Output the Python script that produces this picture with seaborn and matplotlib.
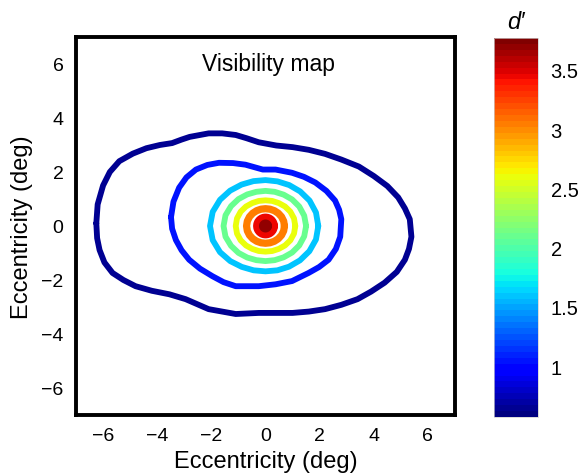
import numpy as np
import pandas as pd
import matplotlib
matplotlib.use("Agg")
import matplotlib.pyplot as plt
import seaborn as sns

sns.set_style("white")
plt.rcParams['font.family'] = ['Liberation Sans', 'DejaVu Sans']
plt.rcParams['text.color'] = 'black'
plt.rcParams['xtick.color'] = 'black'
plt.rcParams['ytick.color'] = 'black'
plt.rcParams['axes.labelcolor'] = 'black'

# --- data ---
vmin, vmax = 0.57, 3.77
cbar_ticks = [1, 1.5, 2, 2.5, 3, 3.5]
cbar_labels = ['1', '1.5', '2', '2.5', '3', '3.5']

# outer contours: (x, y) points in degrees
outer_level = 0.65
outer_x = [-6.25, -6.2, -6.0, -5.75, -5.4, -4.9, -4.4, -3.9, -3.45, -3.1, -2.8, -2.1,
           -1.6, -1.1, -0.7, -0.25, 0.4, 1.0, 1.6, 2.2, 2.8, 3.45, 4.0, 4.5, 4.9, 5.15,
           5.33, 5.39, 5.3, 5.15, 4.85, 4.4, 3.9, 3.4, 2.8, 2.2, 1.6, 1.0, -0.25, -1.1,
           -2.1, -2.95, -3.55, -4.2, -4.8, -5.25, -5.65, -5.95, -6.13, -6.22, -6.25]
outer_y = [0.1, 0.8, 1.5, 2.0, 2.4, 2.68, 2.88, 3.0, 3.07, 3.2, 3.3, 3.43,
           3.43, 3.37, 3.25, 3.1, 2.98, 2.92, 2.82, 2.67, 2.46, 2.2, 1.85, 1.48, 1.06, 0.65,
           0.25, -0.4, -0.85, -1.25, -1.7, -2.1, -2.43, -2.71, -2.92, -3.08, -3.17, -3.22, -3.22, -3.26,
           -3.08, -2.71, -2.53, -2.4, -2.23, -2.0, -1.74, -1.35, -0.89, -0.45, 0.1]

second_level = 1.05
second_x = [-3.49, -3.4, -3.19, -2.92, -2.57, -2.15, -1.72, -1.2, -0.74, -0.1, 0.37, 0.98,
            1.42, 1.84, 2.25, 2.57, 2.72, 2.8, 2.76, 2.6, 2.33, 1.98, 1.59, 0.98, 0.37,
            -0.25, -1.1, -1.55, -1.96, -2.42, -2.82, -3.1, -3.31, -3.45, -3.49]
second_y = [0.33, 0.9, 1.42, 1.8, 2.09, 2.26, 2.34, 2.33, 2.27, 2.09, 2.09, 1.97,
            1.82, 1.61, 1.3, 0.94, 0.6, 0.25, -0.4, -0.85, -1.25, -1.52, -1.74, -2.04, -2.16,
            -2.23, -2.23, -2.08, -1.86, -1.58, -1.25, -0.9, -0.52, -0.1, 0.33]

# inner rings: radius (deg) at angles 0, 15, ..., 345 degrees
ring_angles_deg = [0, 15, 30, 45, 60, 75, 90, 105, 120, 135, 150, 165,
                   180, 195, 210, 225, 240, 255, 270, 285, 300, 315, 330, 345]
ring_levels = [1.6, 2.1, 2.6, 3.05, 3.45, 3.7]
ring_cyan = [1.95, 1.93, 1.88, 1.81, 1.75, 1.71, 1.70, 1.72, 1.77, 1.85, 1.94, 2.02,
             2.05, 2.02, 1.94, 1.84, 1.75, 1.70, 1.68, 1.70, 1.74, 1.80, 1.87, 1.93]
ring_green = [1.50, 1.48, 1.44, 1.39, 1.34, 1.31, 1.30, 1.31, 1.35, 1.41, 1.47, 1.53,
              1.55, 1.53, 1.47, 1.41, 1.35, 1.31, 1.30, 1.31, 1.34, 1.39, 1.44, 1.48]
ring_yellow = [1.10, 1.09, 1.06, 1.02, 0.98, 0.96, 0.95, 0.96, 0.98, 1.02, 1.06, 1.09,
               1.10, 1.09, 1.06, 1.02, 0.98, 0.96, 0.95, 0.96, 0.98, 1.02, 1.06, 1.09]
ring_orange = [0.70, 0.695, 0.683, 0.668, 0.654, 0.644, 0.64, 0.644, 0.654, 0.668, 0.683, 0.695,
               0.70, 0.695, 0.683, 0.668, 0.654, 0.644, 0.64, 0.644, 0.654, 0.668, 0.683, 0.695]
ring_red = [0.28] * 24
ring_darkred = [0.1] * 24
ring_radii = [ring_cyan, ring_green, ring_yellow, ring_orange, ring_red, ring_darkred]
ring_widths = [4.2, 4.2, 4.2, 5.2, 7.0, 5.5]

xticks = [-6, -4, -2, 0, 2, 4, 6]
yticks = [-6, -4, -2, 0, 2, 4, 6]

# --- figure ---
fig = plt.figure(figsize=(5.78, 4.77), dpi=100)
ax = fig.add_axes([0.1315, 0.1279, 0.6557, 0.7925])
cax = fig.add_axes([0.8547, 0.1237, 0.0761, 0.7945])

cmap = plt.get_cmap('jet', 64)
norm = matplotlib.colors.Normalize(vmin=vmin, vmax=vmax)

def draw(xs, ys, level, lw):
    df = pd.DataFrame({'x': xs, 'y': ys})
    sns.lineplot(data=df, x='x', y='y', sort=False, estimator=None, ax=ax,
                 color=cmap(norm(level)), linewidth=lw,
                 solid_joinstyle='round', solid_capstyle='round')

draw(outer_x, outer_y, outer_level, 4.2)
draw(second_x, second_y, second_level, 4.2)
th = np.deg2rad(ring_angles_deg + [ring_angles_deg[0]])
for lev, radii, lw in zip(ring_levels, ring_radii, ring_widths):
    r = np.array(radii + [radii[0]])
    draw(r * np.cos(th), r * np.sin(th), lev, lw)

ax.set_xlim(-7, 7)
ax.set_ylim(-7, 7)
ax.set_xticks(xticks)
ax.set_yticks(yticks)
ax.tick_params(direction='in', length=5, width=1.5, labelsize=14, pad=9)
for s in ax.spines.values():
    s.set_linewidth(2.8)
    s.set_color('black')
ax.set_xlabel('Eccentricity (deg)', fontsize=17, labelpad=4)
ax.set_ylabel('Eccentricity (deg)', fontsize=17, labelpad=6)
ax.text(0.1, 6.0, 'Visibility map', fontsize=16.5, ha='center', va='center')

sm = matplotlib.cm.ScalarMappable(norm=norm, cmap=cmap)
cb = fig.colorbar(sm, cax=cax)
cb.set_ticks(cbar_ticks)
cb.set_ticklabels(cbar_labels)
cb.ax.tick_params(length=0, labelsize=14.5, pad=9)
cb.outline.set_linewidth(0.5)
cb.outline.set_edgecolor('#cccccc')
cax.set_title("d\u2032", fontsize=17, style='italic', pad=7)

fig.savefig('out.png', dpi=100)
